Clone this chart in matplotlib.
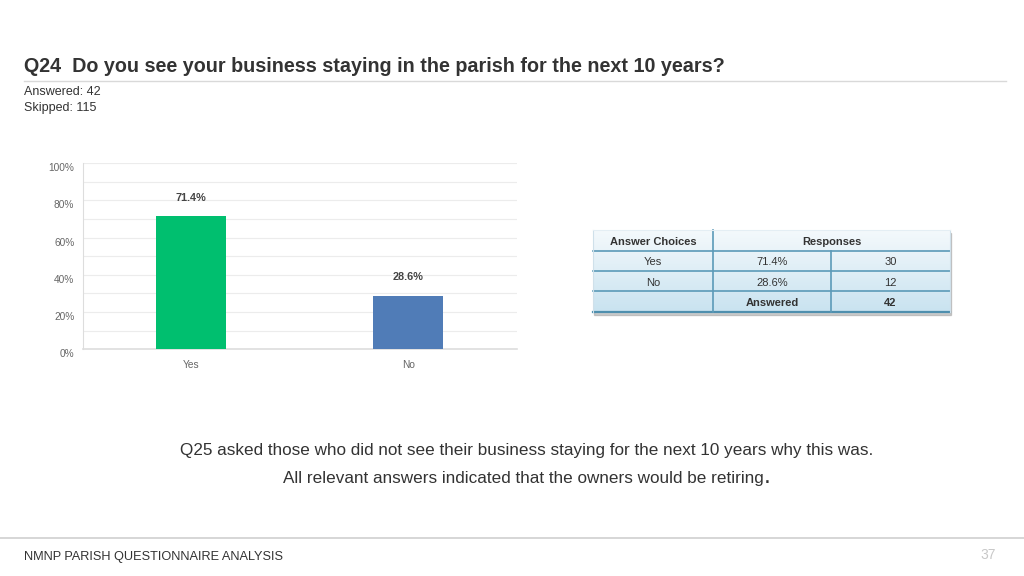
import matplotlib
matplotlib.use('Agg')
from matplotlib import pyplot as plt
from matplotlib.patches import Rectangle
import matplotlib.colors as mcolors
import numpy as np

plt.rcParams['font.family'] = ['Liberation Sans', 'DejaVu Sans']

title = "Q24  Do you see your business staying in the parish for the next 10 years?"
answered = 42
skipped = 115

choices = ["Yes", "No"]
percents = [71.4, 28.6]
counts = [30, 12]
bar_colors = ["#00bf6f", "#507cb7"]

yticks = [0, 20, 40, 60, 80, 100]

note_1 = "Q25 asked those who did not see their business staying for the next 10 years why this was."
note_2 = "All relevant answers indicated that the owners would be retiring"
footer = "NMNP PARISH QUESTIONNAIRE ANALYSIS"
page = "37"

W, H = 1024, 576
fig = plt.figure(figsize=(W / 100, H / 100), dpi=100)


def px(x, y):
    return x / W, 1 - y / H


# header
fig.text(*px(24, 67), title, fontsize=14.2, fontweight='bold', color='#333333', va='center')
fig.add_artist(plt.Line2D([24 / W, 1006 / W], [1 - 81 / H] * 2, color='#d9d9d9', lw=1))
fig.text(*px(24, 92), f"Answered: {answered}", fontsize=9, color='#333333', va='center')
fig.text(*px(24, 108), f"Skipped: {skipped}", fontsize=9, color='#333333', va='center')

# bar chart
l, r, t, b = 82.7, 516.7, 163, 349.3
ax = fig.add_axes([l / W, 1 - b / H, (r - l) / W, (b - t) / H])
x = np.arange(len(choices))
ax.bar(x, percents, width=0.32, color=bar_colors, zorder=3)
for xi, p in zip(x, percents):
    ax.text(xi, p + 10, f"{p:.1f}%", ha='center', va='center', fontsize=7.8,
            fontweight='bold', color='#444444')
ax.set_xlim(-0.5, 1.5)
ax.set_ylim(0, 100)
ax.set_yticks(yticks)
ax.set_yticklabels([f"{v}%" for v in yticks])
ax.set_yticks(np.arange(10, 100, 20), minor=True)
ax.set_xticks(x)
ax.set_xticklabels(choices)
ax.tick_params(axis='both', which='both', length=0, labelsize=7.3, labelcolor='#666666')
ax.tick_params(axis='y', pad=6)
ax.tick_params(axis='x', pad=8)
for lab in ax.get_yticklabels():
    lab.set_verticalalignment('top')
ax.grid(axis='y', which='both', color='#ececec', lw=0.8, zorder=0)
for s in ['top', 'right']:
    ax.spines[s].set_visible(False)
ax.spines['left'].set_color('#dddddd')
ax.spines['bottom'].set_color('#dddddd')
ax.spines['bottom'].set_linewidth(1.2)

# table
tl, tr, tt, tb = 593, 950, 230, 312
tax = fig.add_axes([0, 0, 1, 1], facecolor='none')
tax.set_xlim(0, W)
tax.set_ylim(H, 0)
tax.axis('off')
# shadow
tax.add_patch(Rectangle((tl + 1, tt + 3), tr - tl, tb - tt, color='#9a9a9a', alpha=0.5, zorder=1))
grad = np.linspace(0, 1, 100).reshape(-1, 1)
cmap = mcolors.LinearSegmentedColormap.from_list('tbl', ['#f4f9fc', '#c9e3f0'])
tax.imshow(grad, extent=(tl, tr, tb, tt), cmap=cmap, aspect='auto', zorder=2)
line_c = '#5b9ab8'
c1, c2 = 713, 831
rows = [230, 250.5, 271, 291, 312]
for yy in rows[1:-1]:
    tax.plot([tl, tr], [yy, yy], color=line_c, lw=1.2, zorder=3)
tax.plot([tl, tr], [tb, tb], color='#4f8fae', lw=1.6, zorder=3)
tax.plot([c1, c1], [tt, tb], color=line_c, lw=1.2, zorder=3)
tax.plot([c2, c2], [rows[1], tb], color=line_c, lw=1.2, zorder=3)
tax.plot([tl, tl], [tt, tb], color='#cfe0ea', lw=0.8, zorder=3)
tax.plot([tr, tr], [tt, tb], color='#cfe0ea', lw=0.8, zorder=3)
tax.plot([tl, tr], [tt, tt], color='#e4eef4', lw=0.8, zorder=3)

cx = [(tl + c1) / 2, (c1 + c2) / 2, (c2 + tr) / 2]
ry = [(rows[i] + rows[i + 1]) / 2 + 1.5 for i in range(4)]
tc = '#333333'
fs = 8
tax.text(cx[0], ry[0], "Answer Choices", ha='center', va='center', fontsize=fs, fontweight='bold', color=tc, zorder=4)
tax.text((c1 + tr) / 2, ry[0], "Responses", ha='center', va='center', fontsize=fs, fontweight='bold', color=tc, zorder=4)
for i, (c, p, n) in enumerate(zip(choices, percents, counts)):
    tax.text(cx[0], ry[i + 1], c, ha='center', va='center', fontsize=fs, color=tc, zorder=4)
    tax.text(cx[1], ry[i + 1], f"{p:.1f}%", ha='center', va='center', fontsize=fs, color=tc, zorder=4)
    tax.text(cx[2], ry[i + 1], str(n), ha='center', va='center', fontsize=fs, color=tc, zorder=4)
tax.text(cx[1], ry[3], "Answered", ha='center', va='center', fontsize=fs, fontweight='bold', color=tc, zorder=4)
tax.text(cx[2], ry[3], str(sum(counts)), ha='center', va='center', fontsize=fs, fontweight='bold', color=tc, zorder=4)

# notes
fig.text(*px(527, 451), note_1, fontsize=12.3, color='#333333', ha='center', va='center')
t2 = fig.text(*px(523, 479), note_2, fontsize=12.3, color='#333333', ha='center', va='center')
tax.annotate(".", xy=(1, 0.22), xycoords=t2, fontsize=18, color='#333333', ha='left', va='baseline')

# footer
fig.add_artist(plt.Line2D([0, 1], [1 - 538 / H] * 2, color='#d0d0d0', lw=1.2))
fig.text(*px(24, 557), footer, fontsize=9.2, color='#333333', va='center')
fig.text(*px(996, 555), page, fontsize=10, color='#c8c8c8', ha='right', va='center')

fig.savefig('out.png', dpi=100)
